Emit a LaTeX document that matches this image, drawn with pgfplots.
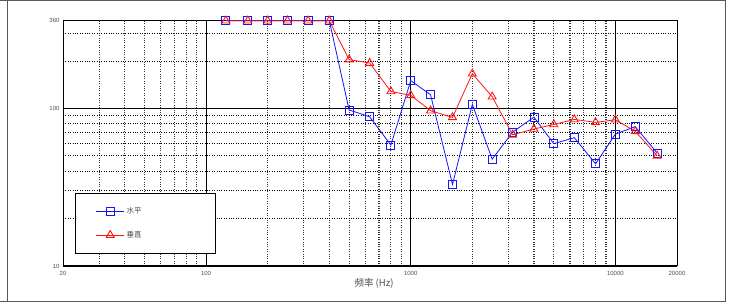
\documentclass[border=0pt]{standalone}
\usepackage{fontspec}
\setmainfont{Liberation Sans}
\newfontfamily\cjk{Noto Sans CJK SC}
\usepackage{pgfplots}
\pgfplotsset{compat=1.18}
\definecolor{myblue}{RGB}{20,20,255}
\definecolor{myred}{RGB}{255,20,20}
\begin{document}
\begin{tikzpicture}[x=1pt,y=1pt]
\path[use as bounding box] (0,0) rectangle (734,303);
\draw[black!65, line width=1.3pt] (0,302.2) -- (725.7,302.2) (0,1.2) -- (725.7,1.2) (7.7,1.2) -- (7.7,302.2) (725.7,1.2) -- (725.7,302.2);
\begin{axis}[
  at={(63pt,37pt)}, anchor=south west, scale only axis,
  width=614pt, height=245.3pt,
  xmode=log, ymode=log, xmin=20, xmax=20000, ymin=10, ymax=360,
  xtick={20,100,1000,10000,20000}, xticklabels={20,100,1000,10000,20000},
  ytick={10,100,360}, yticklabels={10,100,360},
  minor xtick={30,40,50,60,70,80,90,200,300,400,500,600,700,800,900,2000,3000,4000,5000,6000,7000,8000,9000},
  minor ytick={20,30,40,50,60,70,80,90,200,300},
  grid=both,
  major grid style={black, line width=0.8pt},
  minor y grid style={black, dotted, line width=0.7pt},
  minor x grid style={black!80, dotted, line width=1.1pt},
  major tick length=0pt, minor tick length=0pt,
  axis line style={black, line width=1pt},
  tick label style={font=\fontsize{6}{7}\selectfont, text=black!70},
  xticklabel style={yshift=-1.5pt},
  xlabel={\cjk 频率 (Hz)},
  xlabel style={font=\fontsize{9.5}{11}\selectfont, text=black!70, at={(axis description cs:0.5065,0)}, anchor=center, yshift=-17.7pt},
  legend cell align=left,
  legend image code/.code={\draw[mark repeat=2,mark phase=2,#1] plot coordinates {(0pt,0pt)(14pt,0pt)(28pt,0pt)};},
  legend style={at={(rel axis cs:0.019,0.052)}, anchor=south west, draw=black, fill=white,
    font=\fontsize{7.5}{8.5}\selectfont, text=black!70, inner xsep=21pt, inner ysep=12pt, row sep=12pt},
]
\addplot[myblue, line width=0.8pt, mark=square, mark size=4pt, mark options={fill=white, solid, line width=0.9pt}] coordinates {
(125,360)(160,360)(200,360)(250,360)(315,360)(400,360)(500,97.7)(630,88.5)(800,58.5)(1000,150)(1250,122)(1600,32.9)(2000,106)(2500,47.6)(3150,70.8)(4000,88)(5000,59.7)(6300,65.2)(8000,44.5)(10000,68.7)(12500,76.6)(16000,52)
};
\addlegendentry{\makebox[66pt][l]{\cjk 水平}}
\addplot[myred, line width=0.8pt, mark=triangle, mark size=4.6pt, mark options={fill=white, solid, line width=0.9pt}] coordinates {
(125,360)(160,360)(200,360)(250,360)(315,360)(400,360)(500,204)(630,194)(800,128)(1000,121)(1250,96.7)(1600,87.7)(2000,166)(2500,118.6)(3150,68)(4000,74)(5000,79.1)(6300,85.1)(8000,81.5)(10000,84.7)(12500,71.5)(16000,50)
};
\addlegendentry{\makebox[66pt][l]{\cjk 垂直}}
\end{axis}
\end{tikzpicture}
\end{document}
